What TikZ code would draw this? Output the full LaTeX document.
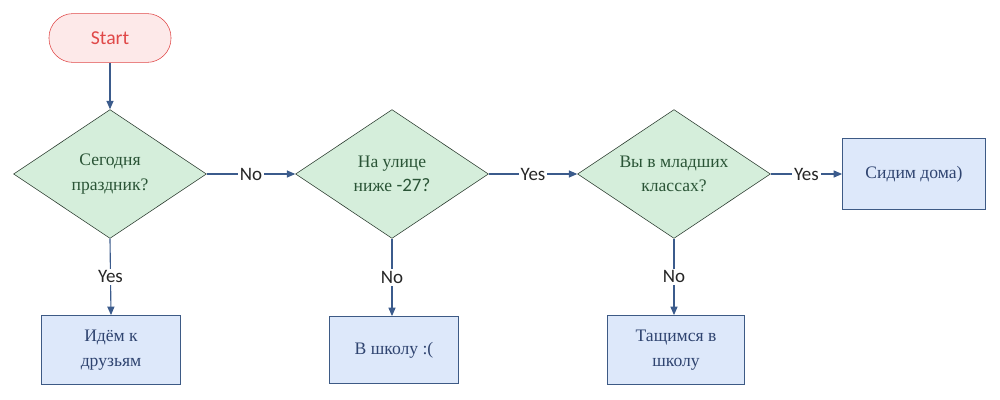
\documentclass[tikz,border=0pt]{standalone}
\usepackage{fontspec}
\setmainfont{Liberation Serif}
\newfontfamily\lblfont{Carlito}
\usepackage{tikz}
\usepackage{xcolor}
\usetikzlibrary{arrows.meta,shapes.geometric,positioning}
\definecolor{linecol}{HTML}{3B5B8C}
\definecolor{qfill}{HTML}{D5EEDB}
\definecolor{qdraw}{HTML}{2A3A2E}
\definecolor{qtext}{HTML}{2A5436}
\definecolor{bfill}{HTML}{DDE8FA}
\definecolor{bdraw}{HTML}{3D5A85}
\definecolor{btext}{HTML}{2F4470}
\definecolor{sfill}{HTML}{FDE9E9}
\definecolor{sdraw}{HTML}{E04848}
\tikzset{
startbox/.style={draw=sdraw,fill=sfill,text=sdraw,rounded corners=0.6cm,minimum width=3.05cm,minimum height=1.22cm,font=\lblfont\fontsize{14}{16}\selectfont},
question/.style={diamond,aspect=1.5,draw=qdraw,fill=qfill,text=qtext,inner sep=0pt,minimum width=4.82cm,minimum height=3.22cm,align=center,font=\fontsize{12.5}{17.5}\selectfont},
action/.style={draw=bdraw,fill=bfill,text=btext,align=center,font=\fontsize{12.5}{17.5}\selectfont},
flow/.style={draw=linecol,line width=0.8pt,-{Triangle[length=6pt,width=5pt]}},
lbl/.style={fill=white,inner sep=1.5pt,text=black!85,font=\lblfont\fontsize{13.5}{15}\selectfont}
}
\begin{document}
\begin{tikzpicture}[x=0.025cm,y=-0.025cm]
\useasboundingbox (0,0) rectangle (1000,400);
\node[startbox] (start) at (110,38) {Start};
\node[question] (holiday) at (110,174) {Сегодня\\праздник?};
\node[question] (cold) at (392,174) {На улице\\ниже {\lblfont\fontsize{13.5}{17.5}\selectfont-27?}};
\node[question] (junior) at (674,174) {Вы в младших\\классах?};
\node[action,minimum width=3.58cm,minimum height=1.78cm] (home) at (914,174) {Сидим дома)};
\node[action,minimum width=3.48cm,minimum height=1.73cm] (friends) at (111,350) {Идём к\\друзьям};
\node[action,minimum width=3.23cm,minimum height=1.68cm] (school) at (394,350) {В школу :(};
\node[action,minimum width=3.43cm,minimum height=1.73cm] (drag) at (676,350) {Тащимся в\\школу};
\draw[flow] (start) -- (holiday);
\draw[flow] (holiday.east) -- node[lbl] {No} (cold.west);
\draw[flow] (cold.east) -- node[lbl] {Yes} (junior.west);
\draw[flow] (junior.east) -- node[lbl] {Yes} (home.west);
\draw[flow] (holiday.south) -- node[lbl] {Yes} (friends.north);
\draw[flow] (cold.south) -- node[lbl] {No} (cold.south |- school.north);
\draw[flow] (junior.south) -- node[lbl] {No} (junior.south |- drag.north);
\end{tikzpicture}
\end{document}
